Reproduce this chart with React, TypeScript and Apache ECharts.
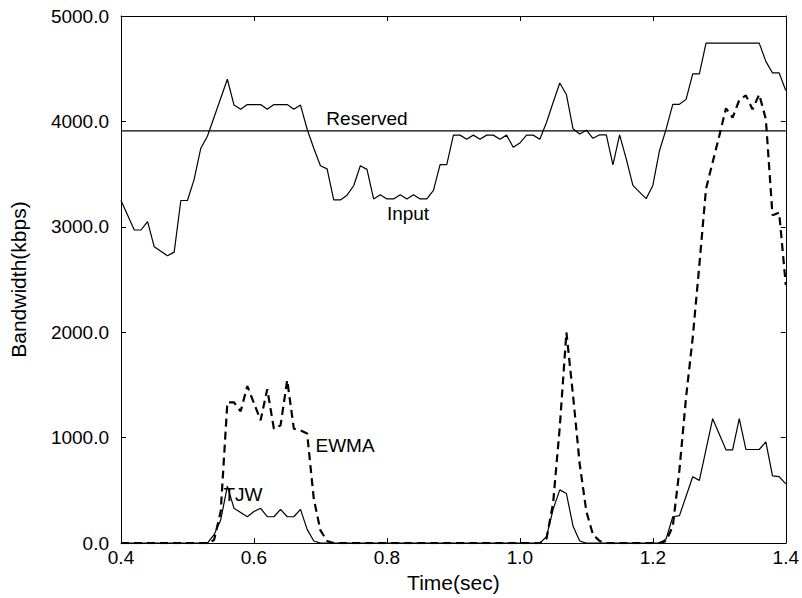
import React, { useEffect, useRef } from "react";
import * as echarts from "echarts";

// ---- data ----
const xMin = 0.4;
const xMax = 1.4;
const xStep = 0.2;
const yMin = 0;
const yMax = 5000;
const yStep = 1000;

const reservedValue = 3910;

const inputData: [number, number][] = [
  [0.40, 3250], [0.42, 2970], [0.43, 2970], [0.44, 3050], [0.45, 2810],
  [0.47, 2725], [0.48, 2760], [0.49, 3250], [0.50, 3250], [0.51, 3450],
  [0.52, 3745], [0.53, 3860], [0.56, 4400], [0.57, 4155], [0.58, 4115],
  [0.59, 4160], [0.61, 4160], [0.62, 4115], [0.63, 4160], [0.65, 4160],
  [0.66, 4115], [0.67, 4155], [0.68, 3926], [0.69, 3745], [0.70, 3580],
  [0.71, 3550], [0.72, 3255], [0.73, 3255], [0.74, 3300], [0.75, 3390],
  [0.76, 3580], [0.77, 3545], [0.78, 3265], [0.79, 3305], [0.80, 3265],
  [0.81, 3265], [0.82, 3305], [0.83, 3265], [0.84, 3305], [0.85, 3265],
  [0.86, 3265], [0.87, 3345], [0.88, 3590], [0.89, 3590], [0.90, 3870],
  [0.91, 3870], [0.92, 3830], [0.93, 3870], [0.94, 3830], [0.95, 3870],
  [0.96, 3870], [0.97, 3830], [0.98, 3870], [0.99, 3755], [1.00, 3795],
  [1.01, 3870], [1.02, 3870], [1.03, 3830], [1.04, 3990], [1.05, 4180],
  [1.06, 4365], [1.07, 4255], [1.08, 3930], [1.09, 3880], [1.10, 3917],
  [1.11, 3840], [1.12, 3873], [1.13, 3873], [1.14, 3587], [1.15, 3873],
  [1.16, 3644], [1.17, 3393], [1.18, 3330], [1.19, 3267], [1.20, 3393],
  [1.21, 3722], [1.22, 3927], [1.23, 4162], [1.24, 4162], [1.25, 4209],
  [1.26, 4451], [1.27, 4451], [1.28, 4743], [1.36, 4743], [1.37, 4570],
  [1.38, 4460], [1.39, 4460], [1.40, 4294]
];

const ewmaData: [number, number][] = [
  [0.40, 0], [0.53, 0], [0.54, 30], [0.55, 300], [0.56, 1335], [0.57, 1335],
  [0.58, 1250], [0.59, 1490], [0.61, 1165], [0.62, 1460], [0.63, 1085],
  [0.64, 1117], [0.65, 1545], [0.66, 1085], [0.67, 1070], [0.68, 1040],
  [0.69, 420], [0.70, 120], [0.71, 20], [0.72, 0], [1.03, 0], [1.04, 40],
  [1.05, 380], [1.06, 1100], [1.07, 2000], [1.08, 1400], [1.09, 750],
  [1.10, 300], [1.11, 80], [1.12, 20], [1.13, 0], [1.21, 0], [1.22, 20],
  [1.23, 160], [1.24, 694], [1.25, 1384], [1.26, 1950], [1.27, 2640],
  [1.28, 3362], [1.30, 3864], [1.31, 4124], [1.32, 4036], [1.33, 4202],
  [1.34, 4247], [1.35, 4115], [1.36, 4256], [1.37, 4021], [1.38, 3110],
  [1.39, 3135], [1.40, 2450]
];

const tjwData: [number, number][] = [
  [0.40, 0], [0.53, 0], [0.54, 80], [0.55, 220], [0.56, 540], [0.57, 330],
  [0.58, 290], [0.59, 250], [0.60, 300], [0.61, 330], [0.62, 250],
  [0.63, 250], [0.64, 320], [0.65, 250], [0.66, 250], [0.67, 320],
  [0.68, 130], [0.69, 20], [0.70, 0], [1.03, 0], [1.04, 60], [1.05, 320],
  [1.06, 505], [1.07, 470], [1.08, 160], [1.09, 20], [1.10, 0], [1.21, 0],
  [1.22, 40], [1.23, 250], [1.24, 260], [1.26, 630], [1.27, 595],
  [1.29, 1180], [1.31, 885], [1.32, 885], [1.33, 1180], [1.34, 888],
  [1.36, 888], [1.37, 960], [1.38, 637], [1.39, 631], [1.40, 562]
];

const xAxisName = "Time(sec)";
const yAxisName = "Bandwidth(kbps)";
const curveNames = ["Reserved", "Input", "EWMA", "TJW"];

const FONT = "'Liberation Sans', Arial, Helvetica, sans-serif";

export default function App() {
  const ref = useRef<HTMLDivElement>(null);

  useEffect(() => {
    if (!ref.current) return;
    const chart = echarts.init(ref.current, undefined, { renderer: "svg" });

    const axisCommon = {
      type: "value" as const,
      axisLine: { show: true, onZero: false, lineStyle: { color: "#000", width: 1 } },
      axisTick: { show: true, inside: true, length: 5, lineStyle: { color: "#000", width: 1 } },
      splitLine: { show: false },
    };

    const tickText = { color: "#000", fontSize: 19, fontFamily: FONT };
    const nameText = { color: "#000", fontSize: 21, fontFamily: FONT };
    const curveFont = `19px ${FONT}`;

    chart.setOption({
      animation: false,
      backgroundColor: "#fff",
      grid: { left: 120, right: 15, top: 16, bottom: 51, containLabel: false },
      xAxis: [
        {
          ...axisCommon,
          min: xMin,
          max: xMax,
          interval: xStep,
          position: "bottom",
          name: xAxisName,
          nameLocation: "middle",
          nameGap: 28,
          nameTextStyle: nameText,
          axisLabel: { ...tickText, margin: 5, formatter: (v: number) => v.toFixed(1) },
        },
        {
          ...axisCommon,
          min: xMin,
          max: xMax,
          interval: xStep,
          position: "top",
          axisLabel: { show: false },
        },
      ],
      yAxis: [
        {
          ...axisCommon,
          min: yMin,
          max: yMax,
          interval: yStep,
          position: "left",
          name: yAxisName,
          nameLocation: "middle",
          nameGap: 92,
          nameTextStyle: nameText,
          axisLabel: { ...tickText, margin: 12, formatter: (v: number) => v.toFixed(1) },
        },
        {
          ...axisCommon,
          min: yMin,
          max: yMax,
          interval: yStep,
          position: "right",
          axisLabel: { show: false },
        },
      ],
      series: [
        {
          name: curveNames[0],
          type: "line",
          data: [[xMin, reservedValue], [xMax, reservedValue]],
          symbol: "none",
          lineStyle: { color: "#000", width: 1.2 },
          silent: true,
        },
        {
          name: curveNames[1],
          type: "line",
          data: inputData,
          symbol: "none",
          lineStyle: { color: "#000", width: 1.2 },
          silent: true,
        },
        {
          name: curveNames[2],
          type: "line",
          data: ewmaData,
          symbol: "none",
          lineStyle: { color: "#000", width: 2.2, type: [8, 5] },
          silent: true,
        },
        {
          name: curveNames[3],
          type: "line",
          data: tjwData,
          symbol: "none",
          lineStyle: { color: "#000", width: 1.2 },
          silent: true,
        },
      ],
      graphic: [
        { type: "text", x: 367, y: 118, style: { text: curveNames[0], fill: "#000", font: curveFont, align: "center", verticalAlign: "middle" } },
        { type: "text", x: 408, y: 213, style: { text: curveNames[1], fill: "#000", font: curveFont, align: "center", verticalAlign: "middle" } },
        { type: "text", x: 345, y: 445, style: { text: curveNames[2], fill: "#000", font: curveFont, align: "center", verticalAlign: "middle" } },
        { type: "text", x: 243, y: 494, style: { text: curveNames[3], fill: "#000", font: curveFont, align: "center", verticalAlign: "middle" } },
      ],
    });

    return () => chart.dispose();
  }, []);

  return (
    <div
      ref={ref}
      style={{ position: "fixed", left: 0, top: 0, width: 802, height: 598 }}
    />
  );
}
